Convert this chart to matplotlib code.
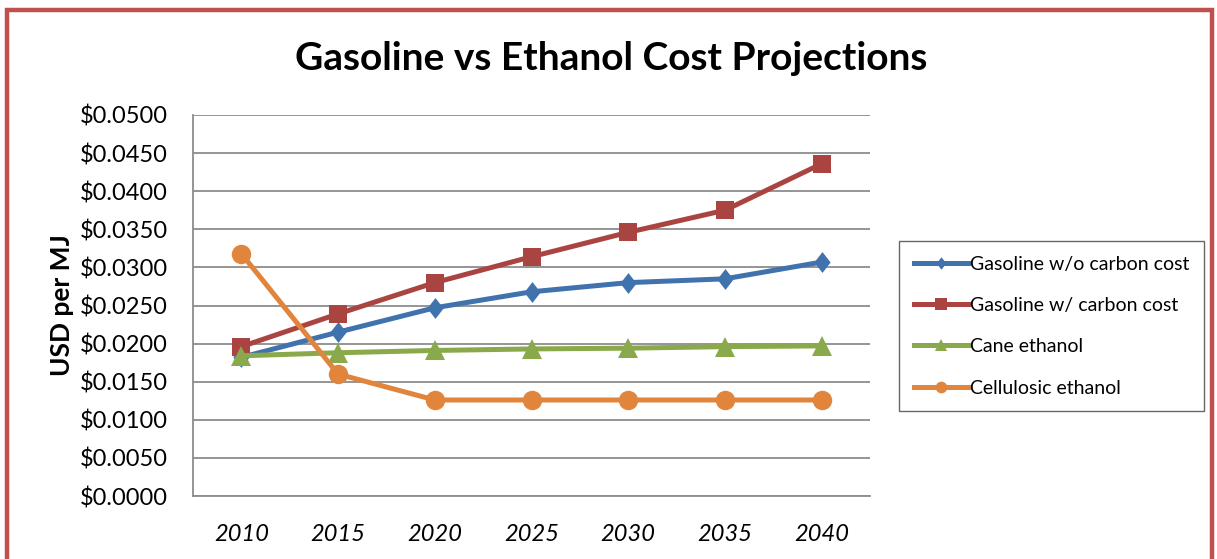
import matplotlib
matplotlib.use("Agg")
import matplotlib.pyplot as plt
from matplotlib.patches import Rectangle
from matplotlib.ticker import FuncFormatter, MultipleLocator

years = ["2010", "2015", "2020", "2025", "2030", "2035", "2040"]
gasoline_no_carbon = [0.0182, 0.0215, 0.0247, 0.0268, 0.0280, 0.0285, 0.0307]
gasoline_carbon = [0.0196, 0.0239, 0.0280, 0.0314, 0.0346, 0.0375, 0.0436]
cane_ethanol = [0.0184, 0.0188, 0.0191, 0.0193, 0.0194, 0.0196, 0.0197]
cellulosic_ethanol = [0.0318, 0.0160, 0.0126, 0.0126, 0.0126, 0.0126, 0.0126]

# slightly tall diamond
diamond = [(0, 1), (0.78, 0), (0, -1), (-0.78, 0), (0, 1)]

series = [
    ("Gasoline w/o carbon cost", gasoline_no_carbon, "#4072AD", diamond, 15),
    ("Gasoline w/ carbon cost", gasoline_carbon, "#AA4441", "s", 13.5),
    ("Cane ethanol", cane_ethanol, "#8AA94A", "^", 15),
    ("Cellulosic ethanol", cellulosic_ethanol, "#E1853C", "o", 14),
]

plt.rcParams["font.family"] = ["Lato", "DejaVu Sans"]

W, H = 1217, 559
fig = plt.figure(figsize=(W / 100, H / 100), dpi=100)
fig.patch.set_facecolor("white")

# outer chart frame
fig.patches.append(Rectangle((7 / W, -0.05), (1212 - 7) / W, 1.05 - 10 / H,
                             transform=fig.transFigure, fill=False,
                             edgecolor="#C0504D", linewidth=3.2))

ax = fig.add_axes([193 / W, 1 - 496 / H, (870 - 193) / W, (496 - 115) / H])
x = list(range(len(years)))
for name, vals, color, marker, ms in series:
    ax.plot(x, vals, color=color, linewidth=3.6, marker=marker, markersize=ms,
            markeredgewidth=0, label=name, zorder=3)

ax.set_xlim(-0.5, len(years) - 0.5)
ax.set_ylim(0, 0.05)
ax.yaxis.set_major_locator(MultipleLocator(0.005))
ax.yaxis.set_major_formatter(FuncFormatter(lambda v, p: f"${v:.4f}"))
ax.set_xticks(x)
ax.set_xticklabels(years, fontsize=17, fontstyle="italic")
ax.tick_params(axis="y", labelsize=17, length=0, pad=18)
ax.tick_params(axis="x", length=0, pad=20)
ax.grid(axis="y", color="#8C8C8C", linewidth=1.3)
ax.set_axisbelow(True)
for side in ("top", "right"):
    ax.spines[side].set_visible(False)
ax.spines["left"].set_color("#8C8C8C")
ax.spines["left"].set_linewidth(1.3)
ax.spines["bottom"].set_color("#8C8C8C")
ax.spines["bottom"].set_linewidth(1.3)

ax.set_ylabel("USD per MJ", fontsize=19, fontweight="bold", labelpad=4)

fig.text(611 / W, 1 - 58 / H, "Gasoline vs Ethanol Cost Projections",
         fontsize=28, fontweight="bold", ha="center", va="center")

leg = fig.legend(loc="upper left", bbox_to_anchor=(899 / W, 1 - 241 / H),
                 borderaxespad=0, fontsize=14, frameon=True, fancybox=False,
                 handlelength=2.8, handletextpad=0.1, labelspacing=1.25,
                 borderpad=0.75, markerscale=0.6)
leg.get_frame().set_edgecolor("#404040")
leg.get_frame().set_linewidth(1.0)

fig.savefig("out.png", dpi=100)
